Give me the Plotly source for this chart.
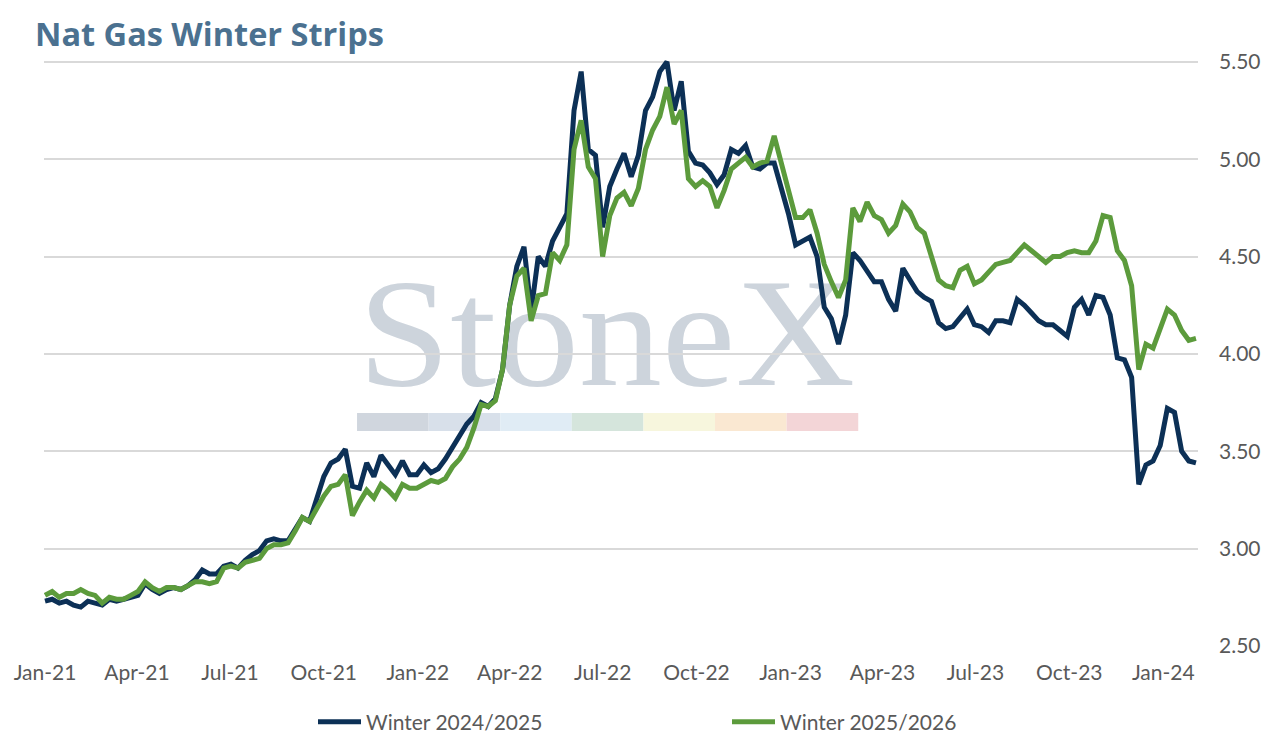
import base64
import pandas as pd
import plotly.graph_objects as go

# fechas semanales (viernes) desde ene-2021 hasta feb-2024
fechas = pd.date_range('2021-01-01', periods=162, freq='7D')

winter_24_25 = [
    2.73, 2.74, 2.72, 2.73, 2.71, 2.70, 2.73, 2.72, 2.71, 2.74,
    2.73, 2.74, 2.75, 2.76, 2.82, 2.79, 2.77, 2.79, 2.80, 2.79,
    2.81, 2.84, 2.89, 2.87, 2.87, 2.91, 2.92, 2.90, 2.94, 2.97,
    2.99, 3.04, 3.05, 3.04, 3.04, 3.10, 3.16, 3.14, 3.25, 3.37,
    3.44, 3.46, 3.51, 3.32, 3.31, 3.44, 3.37, 3.48, 3.43, 3.38,
    3.45, 3.38, 3.38, 3.43, 3.39, 3.41, 3.46, 3.52, 3.58, 3.64,
    3.68, 3.75, 3.73, 3.77, 3.92, 4.25, 4.45, 4.55, 4.22, 4.50,
    4.45, 4.58, 4.65, 4.72, 5.25, 5.45, 5.05, 5.02, 4.65, 4.86,
    4.95, 5.03, 4.91, 5.02, 5.25, 5.32, 5.45, 5.50, 5.25, 5.40,
    5.04, 4.98, 4.97, 4.93, 4.87, 4.92, 5.05, 5.03, 5.07, 4.96,
    4.95, 4.98, 4.98, 4.85, 4.72, 4.56, 4.58, 4.60, 4.50, 4.24,
    4.18, 4.05, 4.20, 4.52, 4.48, 4.43, 4.37, 4.37, 4.28, 4.22,
    4.44, 4.38, 4.32, 4.29, 4.27, 4.16, 4.13, 4.14, 4.19, 4.23,
    4.15, 4.14, 4.11, 4.17, 4.17, 4.16, 4.28, 4.25, 4.21, 4.17,
    4.15, 4.15, 4.12, 4.09, 4.24, 4.28, 4.20, 4.30, 4.29, 4.20,
    3.98, 3.97, 3.88, 3.33, 3.43, 3.45, 3.53, 3.72, 3.70, 3.50,
    3.45, 3.44,
]

winter_25_26 = [
    2.76, 2.78, 2.75, 2.77, 2.77, 2.79, 2.77, 2.76, 2.72, 2.75,
    2.74, 2.74, 2.76, 2.78, 2.83, 2.80, 2.78, 2.80, 2.80, 2.79,
    2.81, 2.83, 2.83, 2.82, 2.83, 2.90, 2.91, 2.90, 2.93, 2.94,
    2.95, 3.00, 3.02, 3.02, 3.03, 3.09, 3.16, 3.14, 3.21, 3.27,
    3.32, 3.33, 3.38, 3.17, 3.24, 3.30, 3.26, 3.33, 3.30, 3.26,
    3.33, 3.31, 3.31, 3.33, 3.35, 3.34, 3.36, 3.42, 3.46, 3.52,
    3.62, 3.74, 3.73, 3.76, 3.92, 4.25, 4.40, 4.44, 4.17, 4.30,
    4.31, 4.52, 4.48, 4.56, 5.05, 5.20, 4.96, 4.90, 4.50, 4.71,
    4.80, 4.83, 4.76, 4.85, 5.05, 5.15, 5.22, 5.37, 5.18, 5.25,
    4.90, 4.86, 4.89, 4.86, 4.75, 4.84, 4.95, 4.98, 5.01, 4.96,
    4.98, 4.99, 5.12, 4.98, 4.84, 4.70, 4.70, 4.74, 4.62, 4.46,
    4.37, 4.29, 4.38, 4.75, 4.68, 4.78, 4.71, 4.69, 4.62, 4.66,
    4.77, 4.73, 4.65, 4.62, 4.50, 4.38, 4.35, 4.34, 4.43, 4.45,
    4.36, 4.38, 4.42, 4.46, 4.47, 4.48, 4.52, 4.56, 4.53, 4.50,
    4.47, 4.50, 4.50, 4.52, 4.53, 4.52, 4.52, 4.58, 4.71, 4.70,
    4.53, 4.48, 4.35, 3.92, 4.05, 4.03, 4.13, 4.23, 4.20, 4.12,
    4.07, 4.08,
]

# marca de agua StoneX como svg (va debajo de las lineas)
colores_barra = ['#d0d6de', '#d8e0ea', '#e0ecf5', '#d5e5dc', '#f7f6dd', '#fae8d2', '#f3d5d7']
rects = ''.join(
    f'<rect x="{7 + i * 71.6:.1f}" y="143" width="71.6" height="18" fill="{c}"/>'
    for i, c in enumerate(colores_barra)
)
svg = (
    '<svg xmlns="http://www.w3.org/2000/svg" width="520" height="165" viewBox="0 0 520 165">'
    '<text x="8" y="115" textLength="497" lengthAdjust="spacingAndGlyphs" '
    'font-family="Liberation Serif" font-size="154" fill="#cdd4dc">StoneX</text>'
    + rects + '</svg>'
)
svg_uri = 'data:image/svg+xml;base64,' + base64.b64encode(svg.encode()).decode()

fig = go.Figure()
fig.add_trace(go.Scatter(x=fechas, y=winter_24_25, mode='lines', name='Winter 2024/2025',
                         line=dict(color='#0c3056', width=5)))
fig.add_trace(go.Scatter(x=fechas, y=winter_25_26, mode='lines', name='Winter 2025/2026',
                         line=dict(color='#5c9b3c', width=5)))

# la pagina tiene 8px de margen en el body, por eso la figura es algo mas chica
fig.update_layout(
    width=1256, height=727,
    margin=dict(l=36, r=66, t=48, b=89, autoexpand=False),
    paper_bgcolor='white', plot_bgcolor='white',
    font=dict(family='Lato', color='#595959', size=21),
    title=dict(text='<b>Nat Gas Winter Strips</b>', x=27 / 1256, xanchor='left',
               y=1 - 27 / 727, yanchor='middle',
               font=dict(family='Open Sans', size=32.5, color='#4b7190')),
    showlegend=True,
    legend=dict(orientation='h', xref='container', yref='container',
                x=305 / 1256, xanchor='left', y=1 - 714 / 727, yanchor='middle',
                itemwidth=43, entrywidth=356, entrywidthmode='pixels',
                font=dict(size=21, color='#595959')),
    images=[dict(source=svg_uri, xref='paper', yref='paper', x=0.2652, y=0.6373,
                 sizex=0.4506, sizey=0.2797, xanchor='left', yanchor='top',
                 sizing='stretch', layer='below')],
)

fig.update_xaxes(range=['2020-12-31', '2024-02-04'], tick0='2021-01-01', dtick='M3',
                 tickformat='%b-%y', showgrid=False, showline=False, zeroline=False,
                 ticks='', ticklabelstandoff=12, automargin=False)
fig.update_yaxes(range=[2.5, 5.53], side='right', dtick=0.5, tick0=2.5, tickformat='.2f',
                 showgrid=True, gridcolor='#d9d9d9', gridwidth=1.5, zeroline=False,
                 ticks='', ticklabelstandoff=20, automargin=False)

fig.write_html('out.html')
